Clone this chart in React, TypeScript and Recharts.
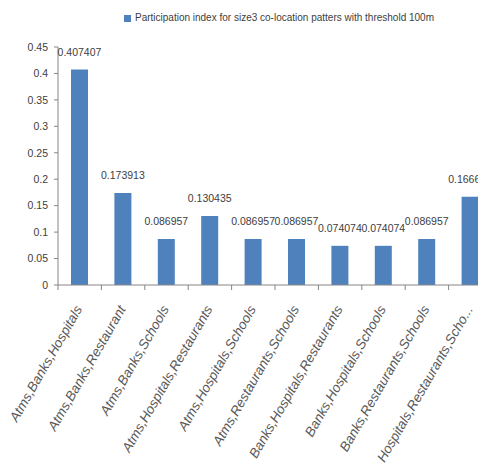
import React from "react";
import { BarChart, Bar, XAxis, YAxis, Legend, LabelList } from "recharts";

const patterns = [
  "Atms,Banks,Hospitals",
  "Atms,Banks,Restaurant",
  "Atms,Banks,Schools",
  "Atms,Hospitals,Restaurants",
  "Atms,Hospitals,Schools",
  "Atms,Restaurants,Schools",
  "Banks,Hospitals,Restaurants",
  "Banks,Hospitals,Schools",
  "Banks,Restaurants,Schools",
  "Hospitals,Restaurants,Schools",
];
const participation = [0.407407, 0.173913, 0.086957, 0.130435, 0.086957, 0.086957, 0.074074, 0.074074, 0.086957, 0.166667];
const yTicks = [0, 0.05, 0.1, 0.15, 0.2, 0.25, 0.3, 0.35, 0.4, 0.45];

const data = patterns.map((p, i) => ({ pattern: p, value: participation[i] }));

const W = 490;
const H = 456;
const M = { top: 28, right: 6, left: 0, bottom: 0 };
const Y_W = 50;
const HALF_BAND = (W - M.left - M.right - Y_W) / patterns.length / 2;
const FONT = "'Liberation Sans Narrow', 'Liberation Sans', Arial, sans-serif";
const GREY = "#404040";

// excel cuts long category names
const short = (s: string) => (s.length > 27 ? s.slice(0, 26) + "..." : s);

const PatternTick = (props: any) => {
  const { x, y, payload } = props;
  return (
    <g transform={`translate(${x},${y})`}>
      <line x1={-HALF_BAND} x2={-HALF_BAND} y1={0} y2={5} stroke="#868686" />
      <text
        x={3}
        y={24}
        textAnchor="end"
        transform="rotate(-60, 3, 24)"
        fontSize={13.5}
        fontStyle="italic"
        fontFamily="'Liberation Sans', Arial, sans-serif"
        fill="#595959"
      >
        {short(payload.value)}
      </text>
    </g>
  );
};

export default function App() {
  return (
    <div style={{ width: 478, height: 456, overflow: "hidden" }}>
      <BarChart width={W} height={H} data={data} margin={M}>
        <Legend
          verticalAlign="top"
          iconType="square"
          iconSize={7}
          wrapperStyle={{ top: 4, left: 0, width: 552, fontSize: 10, fontFamily: FONT }}
          formatter={(v: string) => <span style={{ color: GREY }}>{v}</span>}
        />
        <XAxis
          dataKey="pattern"
          interval={0}
          height={179}
          tickSize={0}
          tickMargin={0}
          tick={<PatternTick />}
          axisLine={{ stroke: "#868686" }}
        />
        <YAxis
          width={Y_W}
          domain={[0, 0.45]}
          ticks={yTicks}
          tickSize={4}
          tickMargin={6}
          axisLine={{ stroke: "#868686" }}
          tickLine={{ stroke: "#868686" }}
          tick={{ fontSize: 10.5, fill: GREY, fontFamily: FONT }}
        />
        <Bar
          dataKey="value"
          name="Participation index for size3 co-location patters with threshold 100m"
          fill="#4F81BD"
          barSize={17}
          isAnimationActive={false}
        >
          <LabelList dataKey="value" position="top" offset={14} fontSize={10.5} fill={GREY} fontFamily={FONT} />
        </Bar>
      </BarChart>
    </div>
  );
}
